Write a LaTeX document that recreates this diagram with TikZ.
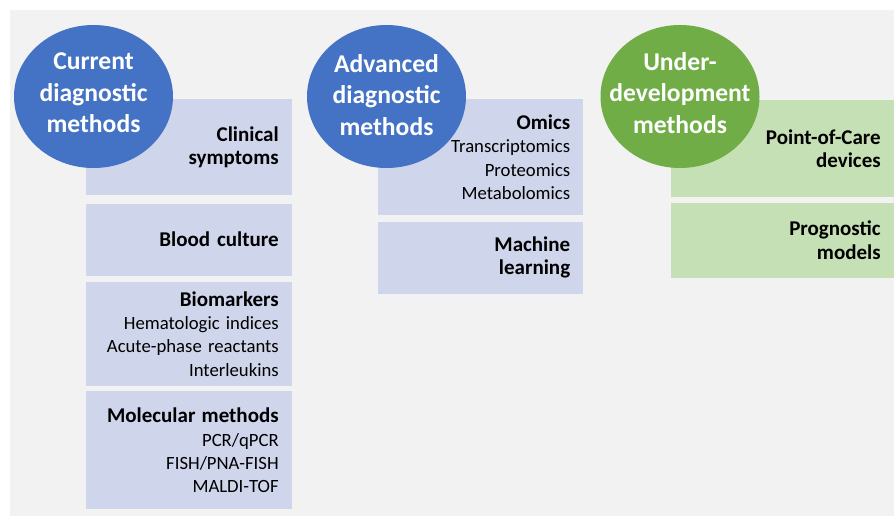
\documentclass[tikz,border=0pt]{standalone}
\usepackage{fontspec}
\setmainfont{Carlito}
\usetikzlibrary{shapes.geometric, positioning}

\definecolor{headblue}{HTML}{4472C4}
\definecolor{headgreen}{HTML}{70AD47}
\definecolor{cellblue}{HTML}{CFD5EA}
\definecolor{cellgreen}{HTML}{C5E0B4}
\definecolor{panelgray}{HTML}{F2F2F2}

% bold first line of a cell
\newcommand{\cellhead}[1]{{\bfseries\fontsize{21}{23.3}\selectfont #1}}

\begin{document}
\begin{tikzpicture}[x=1pt, y=1pt,
  cell/.style={rectangle, inner xsep=13.5pt, inner ysep=0pt, align=right,
    font=\fontsize{18.7}{23.3}\selectfont},
  boldcell/.style={font=\bfseries\fontsize{21}{23.5}\selectfont},
  bluecell/.style={cell, fill=cellblue, text width=179pt},
  greencell/.style={cell, fill=cellgreen, text width=196pt},
  head/.style={ellipse, minimum width=159pt, minimum height=143pt, inner sep=0pt},
  headtext/.style={text=white, align=center, inner sep=0pt,
    font=\bfseries\fontsize{25.6}{31.6}\selectfont}]
\useasboundingbox (0,0) rectangle (894,-516);
\fill[white] (0,0) rectangle (894,-516);
\fill[panelgray] (10,-10) rectangle (894,-516);

% Current methods
\node[bluecell, boldcell, anchor=north west, minimum height=96pt] (clin) at (86,-99)
  {Clinical\\symptoms};
\node[bluecell, boldcell, below=8pt of clin, minimum height=72pt] (blood)
  {Blood culture};
\node[bluecell, below=6pt of blood, minimum height=104pt] (bio)
  {\cellhead{Biomarkers}\\Hematologic indices\\Acute-phase reactants\\Interleukins};
\node[bluecell, below=5pt of bio, minimum height=118pt] (mol)
  {\cellhead{Molecular methods}\\PCR/qPCR\\FISH/PNA-FISH\\MALDI-TOF};

% Advanced methods
\node[bluecell, anchor=north west, minimum height=116pt, inner xsep=13pt] (omics) at (378,-99)
  {\cellhead{Omics}\\Transcriptomics\\Proteomics\\Metabolomics};
\node[bluecell, boldcell, below=6pt of omics, minimum height=72pt, inner xsep=13pt] (ml)
  {Machine\\learning};

% Under-development methods
\node[greencell, boldcell, anchor=north west, minimum height=97pt] (poc) at (671,-100)
  {Point-of-Care\\devices};
\node[greencell, boldcell, below=5pt of poc, minimum height=75pt] (prog)
  {Prognostic\\models};

% Heading circles on top
\node[head, fill=headblue] (cur) at (93.5,-96.5) {};
\node[headtext] (curtext) at ([yshift=3.5pt]cur.center) {Current\\diagnostic\\methods};
\node[head, fill=headblue] (adv) at (386.5,-96.5) {};
\node[headtext] (advtext) at ([yshift=1.5pt]adv.center) {Advanced\\diagnostic\\methods};
\node[head, fill=headgreen] (und) at (680,-96.5) {};
\node[headtext] (undtext) at ([yshift=3.5pt]und.center) {Under-\\development\\methods};
\end{tikzpicture}
\end{document}
